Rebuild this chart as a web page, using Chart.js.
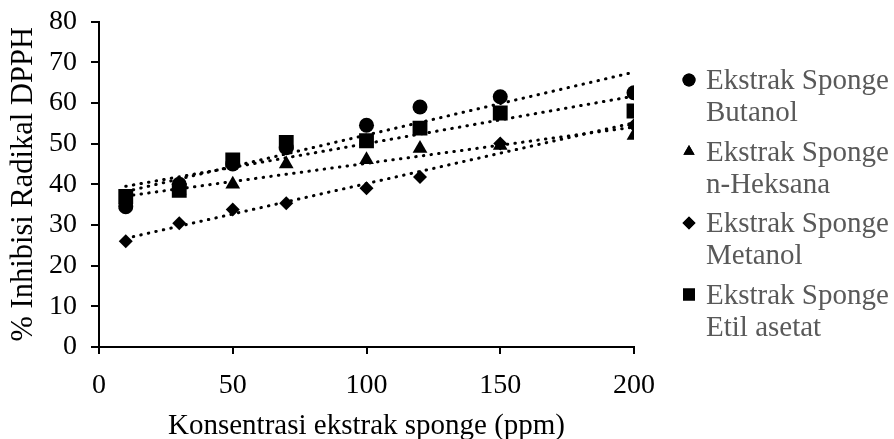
<!DOCTYPE html>
<html>
<head>
<meta charset="utf-8">
<script src="https://cdn.jsdelivr.net/npm/chart.js@4.4.0/dist/chart.umd.min.js"></script>
<style>
html,body{margin:0;padding:0;background:#fff;}
#wrap{width:894px;height:439px;position:relative;}
</style>
</head>
<body>
<div id="wrap"><canvas id="c" width="894" height="439"></canvas></div>
<script>
const konsentrasi = [10, 30, 50, 70, 100, 120, 150, 200];
const butanol    = [34.5, 40, 45, 49, 54.5, 59, 61.5, 62.5];
const nHeksana   = [35, 38.5, 40, 45, 46, 48.8, 49.5, 52];
const metanol    = [26, 30.4, 33.8, 35.3, 39, 41.8, 50, 54.5];
const etilAsetat = [37, 38.5, 46, 50.3, 50.7, 53.8, 57.5, 58];
const xTicks = [0, 50, 100, 150, 200];
const yTicks = [0, 10, 20, 30, 40, 50, 60, 70, 80];
const seriesNames = [
  ['Ekstrak Sponge', 'Butanol'],
  ['Ekstrak Sponge', 'n-Heksana'],
  ['Ekstrak Sponge', 'Metanol'],
  ['Ekstrak Sponge', 'Etil asetat']
];

const FONT = '"Liberation Serif", "Times New Roman", serif';

function pts(ys){ return konsentrasi.map((x,i)=>({x:x, y:ys[i]})); }
function trend(ys){
  const n = konsentrasi.length;
  const mx = konsentrasi.reduce((a,b)=>a+b,0)/n;
  const my = ys.reduce((a,b)=>a+b,0)/n;
  let sxy=0, sxx=0;
  for(let i=0;i<n;i++){ sxy+=(konsentrasi[i]-mx)*(ys[i]-my); sxx+=(konsentrasi[i]-mx)**2; }
  const b = sxy/sxx, a = my - b*mx;
  const x0 = konsentrasi[0], x1 = konsentrasi[n-1];
  return [{x:x0, y:a+b*x0}, {x:x1, y:a+b*x1}];
}

const styles = [
  {shape:'circle', r:7.5, lr:6.5},
  {shape:'triangle', r:8.5, lr:6.5},
  {shape:'rectRot', r:7, lr:6.5},
  {shape:'rect', r:10.5, lr:8.5}
];
const allSeries = [butanol, nHeksana, metanol, etilAsetat];

const datasets = [];
allSeries.forEach((ys, i) => {
  datasets.push({
    type:'line', label:'trend'+i, data: trend(ys),
    borderColor:'#000', borderWidth:3, borderDash:[0.5,7.2], borderCapStyle:'round',
    pointRadius:0, fill:false, order:2
  });
});
allSeries.forEach((ys, i) => {
  datasets.push({
    type:'scatter', label: seriesNames[i].join(' '), data: pts(ys),
    pointStyle: styles[i].shape, pointRadius: styles[i].r, pointHoverRadius: styles[i].r,
    backgroundColor:'#000', borderColor:'#000', borderWidth:0, order:1
  });
});

const legendPlugin = {
  id:'customLegend',
  afterDraw(chart){
    const ctx = chart.ctx;
    ctx.save();
    const x0 = 689, tx = 706;
    const baseY = 89, itemGap = 71.5, lineGap = 32;
    styles.forEach((s,i)=>{
      const by = baseY + i*itemGap;
      const cy = by - 9;
      ctx.fillStyle = '#000';
      ctx.strokeStyle = '#000';
      Chart.helpers.drawPoint(ctx, {pointStyle:s.shape, radius: s.lr, rotation:0, borderWidth:0}, x0, cy);
      ctx.fill();
      ctx.fillStyle = '#595959';
      ctx.font = '29px ' + FONT;
      ctx.textBaseline = 'alphabetic';
      ctx.textAlign = 'left';
      ctx.fillText(seriesNames[i][0], tx, by);
      ctx.fillText(seriesNames[i][1], tx, by + lineGap);
    });
    ctx.restore();
  }
};

new Chart(document.getElementById('c'), {
  data:{ datasets },
  options:{
    responsive:false, animation:false, devicePixelRatio:1,
    layout:{ padding:{ left:0, right:260, top:21.5, bottom:0 } },
    plugins:{ legend:{display:false}, tooltip:{enabled:false} },
    scales:{
      x:{
        type:'linear', min:0, max:200,
        afterBuildTicks(ax){ ax.ticks = xTicks.map(v=>({value:v})); },
        afterFit(s){ s.height = 92; },
        grid:{ display:true, drawOnChartArea:false, drawTicks:true, tickLength:7, color:'#000', lineWidth:2 },
        border:{ display:true, color:'#000', width:2 },
        ticks:{ color:'#000', font:{family:FONT, size:28}, padding:15, maxRotation:0 },
        title:{ display:true, text:'Konsentrasi ekstrak sponge (ppm)', color:'#000', font:{family:FONT, size:29, lineHeight:0.85}, padding:{top:0, bottom:0} }
      },
      y:{
        type:'linear', min:0, max:80,
        afterBuildTicks(ax){ ax.ticks = yTicks.map(v=>({value:v})); },
        afterFit(s){ s.width = 99; s.paddingTop = 0; s.paddingBottom = 0; },
        grid:{ display:true, drawOnChartArea:false, drawTicks:true, tickLength:8, color:'#000', lineWidth:2 },
        border:{ display:true, color:'#000', width:2 },
        ticks:{ color:'#000', font:{family:FONT, size:28}, padding:14 },
        title:{ display:true, text:'% Inhibisi Radikal DPPH', color:'#000', font:{family:FONT, size:30.5}, padding:{top:6, bottom:7} }
      }
    }
  },
  plugins:[legendPlugin]
});
</script>
</body>
</html>
